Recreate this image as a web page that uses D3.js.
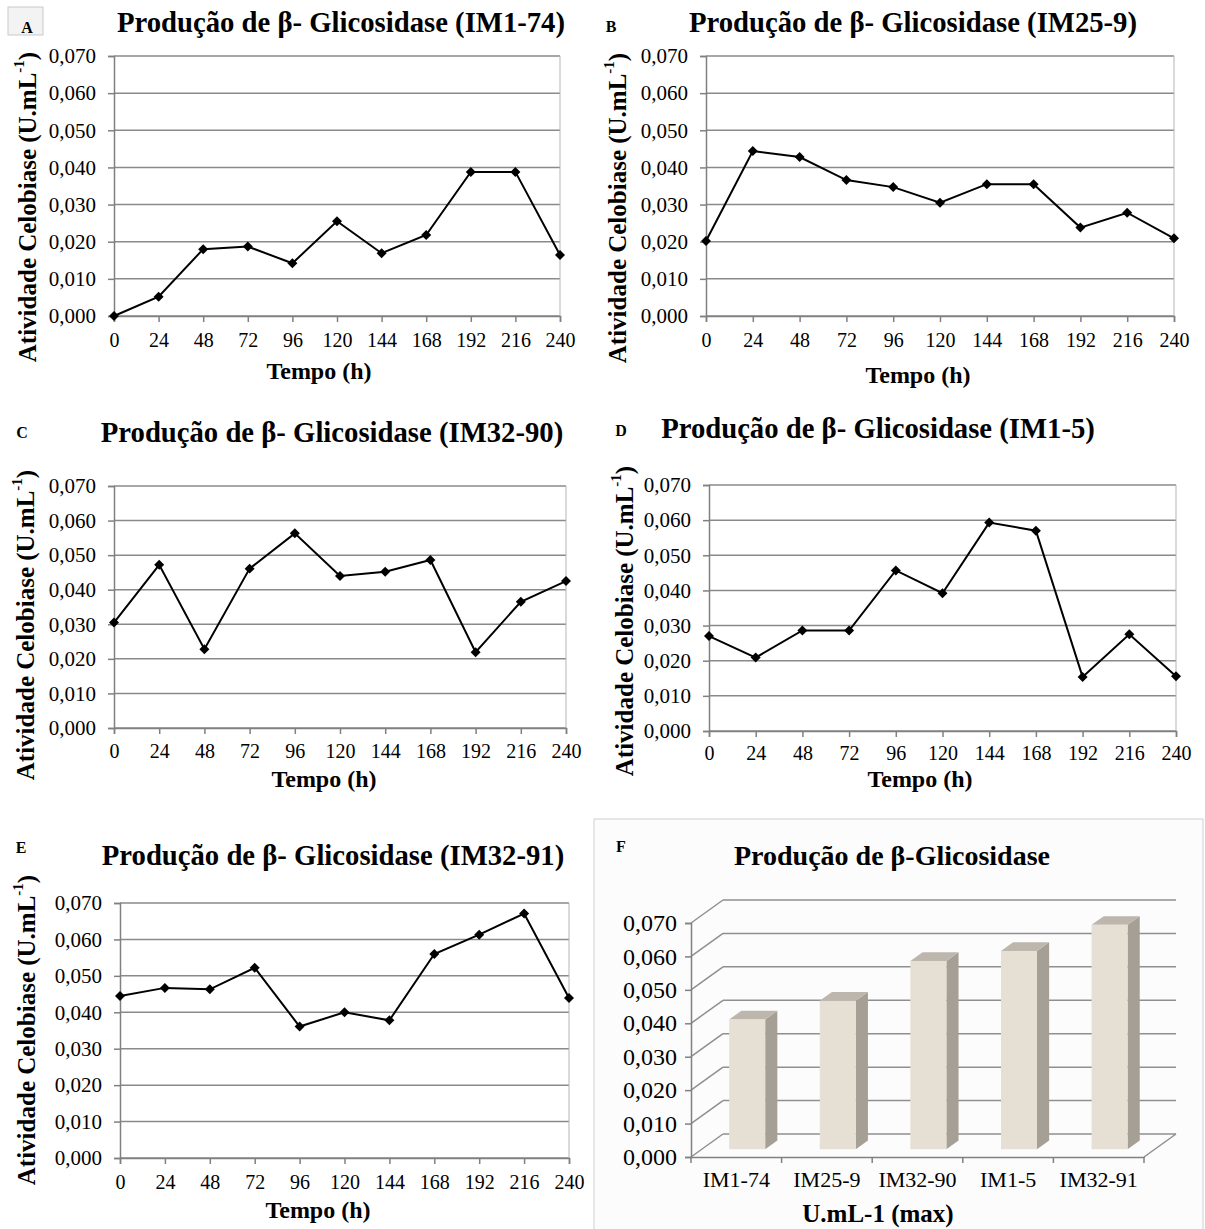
<!DOCTYPE html>
<html lang="pt">
<head>
<meta charset="UTF-8">
<title>Produção de β-Glicosidase</title>
<style>
  body { margin: 0; background: #fff; }
  svg text { font-family: "Liberation Serif", "Times New Roman", serif; fill: #000; }
</style>
</head>
<body>
<script src="https://cdnjs.cloudflare.com/ajax/libs/d3/7.8.5/d3.min.js"></script>
<script>
// tempo de cultivo (h)
var hours = [0, 24, 48, 72, 96, 120, 144, 168, 192, 216, 240];
var yTicks = [0, 0.01, 0.02, 0.03, 0.04, 0.05, 0.06, 0.07];

// atividade celobiase (U/mL)
var im1_74  = [0.000, 0.0052, 0.0180, 0.0187, 0.0142, 0.0255, 0.0169, 0.0218, 0.0388, 0.0388, 0.0164];
var im25_9  = [0.0202, 0.0444, 0.0428, 0.0366, 0.0347, 0.0305, 0.0355, 0.0355, 0.0238, 0.0278, 0.0209];
var im32_90 = [0.0305, 0.0472, 0.0228, 0.0461, 0.0563, 0.0440, 0.0452, 0.0486, 0.0219, 0.0365, 0.0425];
var im1_5   = [0.0270, 0.0209, 0.0286, 0.0286, 0.0457, 0.0392, 0.0593, 0.0570, 0.0154, 0.0275, 0.0156];
var im32_91 = [0.0445, 0.0467, 0.0463, 0.0522, 0.0361, 0.0400, 0.0378, 0.0560, 0.0613, 0.0671, 0.0439];

// painel F: maximo de cada linhagem
var strains = ['IM1-74', 'IM25-9', 'IM32-90', 'IM1-5', 'IM32-91'];
var maxValues = [0.0388, 0.0444, 0.0563, 0.0593, 0.0671];

var fmt = function (d) { return d3.format('.3f')(d).replace('.', ','); };

var svg = d3.select('body').append('svg')
    .attr('width', 1205)
    .attr('height', 1229);

// posicoes de cada painel de linha
var panels = [
    {letter: 'A', name: 'IM1-74',  values: im1_74,  L: 114, R: 560,  T: 56,  B: 316,  tx: 341, ty: 32,  lx: 27,  ly: 33,  yl: 27,  ylc: 207,  tpx: 319, tpy: 379, xpad: 11, box: true},
    {letter: 'B', name: 'IM25-9',  values: im25_9,  L: 706, R: 1174, T: 56,  B: 316,  tx: 913, ty: 32,  lx: 611, ly: 32,  yl: 617, ylc: 208,  tpx: 918, tpy: 383, xpad: 11},
    {letter: 'C', name: 'IM32-90', values: im32_90, L: 114, R: 566,  T: 486, B: 728,  tx: 332, ty: 442, lx: 22,  ly: 438, yl: 25,  ylc: 625,  tpx: 324, tpy: 787, xpad: 10},
    {letter: 'D', name: 'IM1-5',   values: im1_5,   L: 709, R: 1176, T: 485, B: 731,  tx: 878, ty: 438, lx: 621, ly: 436, yl: 624, ylc: 621,  tpx: 920, tpy: 787, xpad: 9},
    {letter: 'E', name: 'IM32-91', values: im32_91, L: 120, R: 569,  T: 903, B: 1158, tx: 333, ty: 865, lx: 21,  ly: 853, yl: 26,  ylc: 1030, tpx: 318, tpy: 1218, xpad: 11}
];

panels.forEach(function (p) {
    var x = d3.scaleLinear().domain([0, 240]).range([p.L, p.R]);
    var y = d3.scaleLinear().domain([0, 0.07]).range([p.B, p.T]);
    var g = svg.append('g');

    // letra do painel
    if (p.box) {
        g.append('rect')
            .attr('x', 8).attr('y', 7).attr('width', 35).attr('height', 28)
            .attr('fill', '#f3f3f3').attr('stroke', '#c9c9c9');
    }
    g.append('text')
        .attr('x', p.lx).attr('y', p.ly)
        .attr('text-anchor', 'middle')
        .style('font-size', '16px').style('font-weight', 'bold')
        .text(p.letter);

    // titulo
    g.append('text')
        .attr('x', p.tx).attr('y', p.ty)
        .attr('text-anchor', 'middle')
        .style('font-size', '28.7px').style('font-weight', 'bold')
        .text('Produção de β- Glicosidase (' + p.name + ')');

    // grade
    g.append('g').selectAll('line')
        .data(yTicks)
        .enter().append('line')
        .attr('x1', p.L).attr('x2', p.R)
        .attr('y1', function (d) { return y(d); })
        .attr('y2', function (d) { return y(d); })
        .attr('stroke', '#8a8a8a').attr('stroke-width', 1.5);
    g.append('line')
        .attr('x1', p.R).attr('x2', p.R).attr('y1', p.T).attr('y2', p.B)
        .attr('stroke', '#b5b5b5');

    // eixos
    var yAxis = g.append('g')
        .attr('transform', 'translate(' + p.L + ',0)')
        .call(d3.axisLeft(y).tickValues(yTicks).tickFormat(fmt).tickSize(6).tickPadding(12));
    yAxis.selectAll('text').style('font-size', '21px').style('font-family', '"Liberation Serif", serif');

    var xAxis = g.append('g')
        .attr('transform', 'translate(0,' + p.B + ')')
        .call(d3.axisBottom(x).tickValues(hours).tickFormat(d3.format('d')).tickSize(6).tickPadding(p.xpad));
    xAxis.selectAll('text').style('font-size', '20px').style('font-family', '"Liberation Serif", serif');

    g.selectAll('.domain').attr('stroke', '#808080').attr('stroke-width', 1.5);
    g.selectAll('.tick line').attr('stroke', '#808080').attr('stroke-width', 1.5);

    // rotulos dos eixos
    var yl = g.append('text')
        .attr('transform', 'translate(' + p.yl + ',' + p.ylc + ') rotate(-90)')
        .attr('text-anchor', 'middle')
        .attr('dominant-baseline', 'central')
        .style('font-size', '25px').style('font-weight', 'bold');
    yl.append('tspan').text('Atividade Celobiase (U.mL');
    yl.append('tspan').attr('baseline-shift', 'super').style('font-size', '15px').text('-1');
    yl.append('tspan').text(')');

    g.append('text')
        .attr('x', p.tpx).attr('y', p.tpy)
        .attr('text-anchor', 'middle')
        .style('font-size', '24px').style('font-weight', 'bold')
        .text('Tempo (h)');

    // linha e marcadores
    var pts = hours.map(function (h, i) { return [h, p.values[i]]; });
    var line = d3.line()
        .x(function (d) { return x(d[0]); })
        .y(function (d) { return y(d[1]); });
    g.append('path')
        .datum(pts)
        .attr('d', line)
        .attr('fill', 'none').attr('stroke', '#000').attr('stroke-width', 2);

    g.selectAll('.mk')
        .data(pts)
        .enter().append('path')
        .attr('class', 'mk')
        .attr('d', d3.symbol(d3.symbolSquare, 50))
        .attr('transform', function (d) {
            return 'translate(' + x(d[0]) + ',' + y(d[1]) + ') rotate(45)';
        })
        .attr('fill', '#000');
});

// ---- painel F (barras 3D) ----
var fg = svg.append('g');
fg.append('rect')
    .attr('x', 594).attr('y', 819).attr('width', 609).attr('height', 420)
    .attr('fill', '#fcfcfc').attr('stroke', '#cfcfcf');

fg.append('text')
    .attr('x', 621).attr('y', 852).attr('text-anchor', 'middle')
    .style('font-size', '16px').style('font-weight', 'bold')
    .text('F');
fg.append('text')
    .attr('x', 892).attr('y', 865).attr('text-anchor', 'middle')
    .style('font-size', '28px').style('font-weight', 'bold')
    .text('Produção de β-Glicosidase');

var depth = {dx: 32, dy: -23};
var yF = d3.scaleLinear().domain([0, 0.07]).range([1157, 923]);
var xF = d3.scaleBand().domain(strains).range([691, 1144]).paddingInner(0);

// parede do fundo e lateral
var grid = fg.append('g');
yTicks.forEach(function (v) {
    var yf = yF(v), yb = yF(v) + depth.dy;
    grid.append('line')
        .attr('x1', 691 + depth.dx).attr('x2', 1144 + depth.dx)
        .attr('y1', yb).attr('y2', yb)
        .attr('stroke', '#8f8f8f').attr('stroke-width', 1.5);
    grid.append('line')
        .attr('x1', 691).attr('x2', 691 + depth.dx)
        .attr('y1', yf).attr('y2', yb)
        .attr('stroke', '#8f8f8f').attr('stroke-width', 1.5);
});
grid.append('line')
    .attr('x1', 1144).attr('x2', 1144 + depth.dx)
    .attr('y1', yF(0)).attr('y2', yF(0) + depth.dy)
    .attr('stroke', '#8f8f8f').attr('stroke-width', 1.5);

var fyAxis = fg.append('g')
    .attr('transform', 'translate(691,0)')
    .call(d3.axisLeft(yF).tickValues(yTicks).tickFormat(fmt).tickSize(6).tickPadding(8));
fyAxis.selectAll('text').style('font-size', '24px').style('font-family', '"Liberation Serif", serif');

var fxAxis = fg.append('g')
    .attr('transform', 'translate(0,1157)')
    .call(d3.axisBottom(xF).tickSize(0).tickPadding(14));
fxAxis.selectAll('text').style('font-size', '22px').style('font-family', '"Liberation Serif", serif');
fxAxis.selectAll('.bound')
    .data(d3.range(strains.length + 1))
    .enter().append('line')
    .attr('class', 'bound')
    .attr('x1', function (i) { return 691 + i * xF.step(); })
    .attr('x2', function (i) { return 691 + i * xF.step(); })
    .attr('y1', 0).attr('y2', 6);
fg.selectAll('.domain, .tick line, .bound').attr('stroke', '#808080').attr('stroke-width', 1.5);

// barras
var f0 = 0.34, f1 = 0.72, barW = 36;
var ddx = (f1 - f0) * depth.dx, ddy = (f1 - f0) * depth.dy;
var bars = fg.selectAll('.bar')
    .data(strains.map(function (s, i) { return {s: s, v: maxValues[i]}; }))
    .enter().append('g').attr('class', 'bar');

function geo(d) {
    var xl = xF(d.s) + xF.bandwidth() / 2 - barW / 2 + f0 * depth.dx;
    var yb = yF(0) + f0 * depth.dy;
    var yt = yF(d.v) + f0 * depth.dy;
    return {xl: xl, xr: xl + barW, yb: yb, yt: yt};
}

bars.append('polygon')
    .attr('points', function (d) {
        var b = geo(d);
        return [[b.xr, b.yt], [b.xr + ddx, b.yt + ddy], [b.xr + ddx, b.yb + ddy], [b.xr, b.yb]].join(' ');
    })
    .attr('fill', '#a59f96');
bars.append('polygon')
    .attr('points', function (d) {
        var b = geo(d);
        return [[b.xl, b.yt], [b.xr, b.yt], [b.xr + ddx, b.yt + ddy], [b.xl + ddx, b.yt + ddy]].join(' ');
    })
    .attr('fill', '#bcb6ad');
bars.append('rect')
    .attr('x', function (d) { return geo(d).xl; })
    .attr('y', function (d) { return geo(d).yt; })
    .attr('width', barW)
    .attr('height', function (d) { var b = geo(d); return b.yb - b.yt; })
    .attr('fill', '#e6dfd3');

fg.append('text')
    .attr('x', 878).attr('y', 1222).attr('text-anchor', 'middle')
    .style('font-size', '25px').style('font-weight', 'bold')
    .text('U.mL-1 (max)');
</script>
</body>
</html>
